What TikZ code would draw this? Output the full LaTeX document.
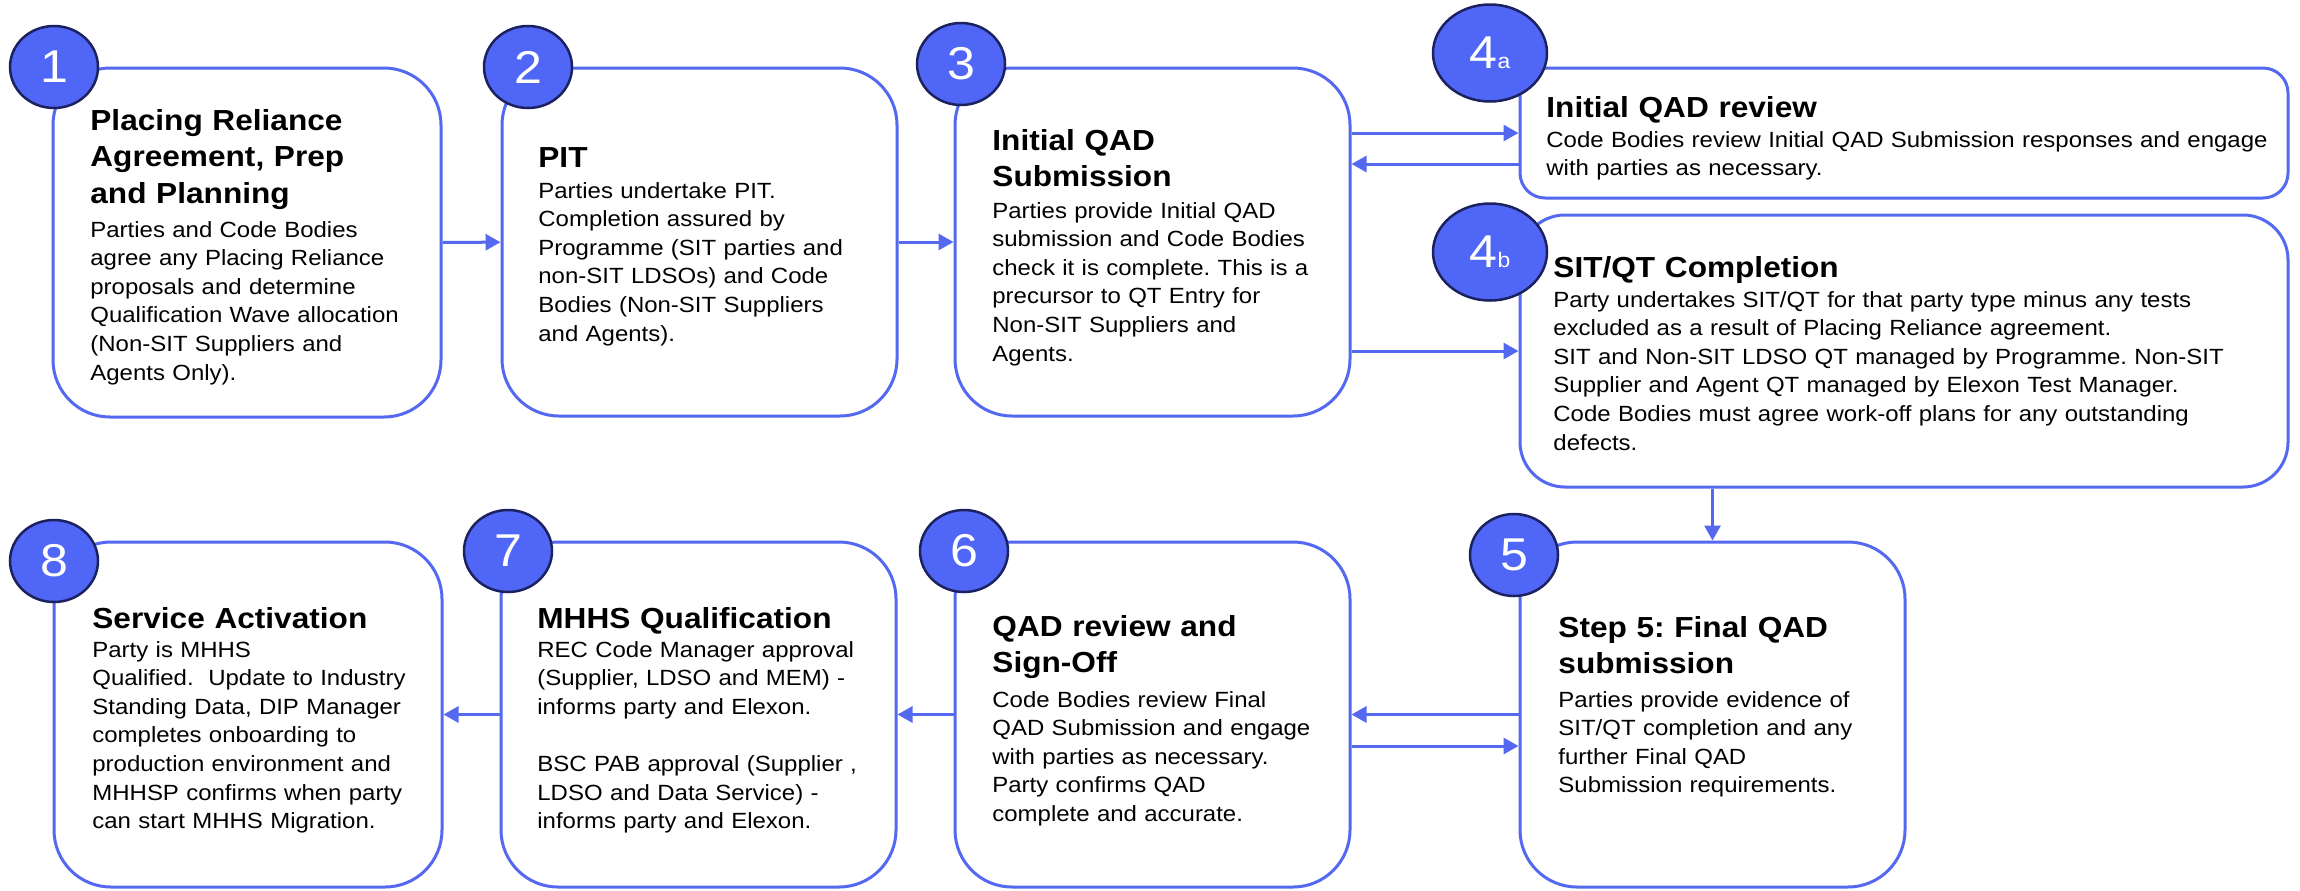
\documentclass[tikz,border=0pt]{standalone}
\usepackage{fontspec}
\setmainfont[FakeStretch=1.09]{Liberation Sans}
\usetikzlibrary{arrows.meta,shapes.geometric}

\definecolor{stepblue}{RGB}{80,102,246}
\definecolor{stepnavy}{RGB}{28,34,96}
\definecolor{linkblue}{RGB}{84,104,240}

\newcommand\titlefont{\fontsize{14.5}{18.4}\selectfont\bfseries}
\newcommand\bodyfont{\fontsize{11}{14.3}\selectfont}
\newcommand\subfont{\fontsize{10.5}{12}\selectfont}
\frenchspacing

\begin{document}
\begin{tikzpicture}[x=0.5pt,y=-0.5pt,
  stepbox/.style={draw=linkblue,line width=1.5pt,rounded corners=28.5pt,fill=white,inner sep=0pt},
  badge/.style={ellipse,draw=stepnavy,line width=1.25pt,fill=stepblue,text=white,inner sep=0pt,
    minimum width=44pt,minimum height=41pt,font=\fontsize{23}{26}\selectfont},
  bigbadge/.style={badge,minimum width=57pt,minimum height=48.5pt},
  steptitle/.style={anchor=base west,inner sep=0pt,align=left,text width=380pt,font=\titlefont},
  stepbody/.style={anchor=base west,inner sep=0pt,align=left,text width=380pt,font=\bodyfont},
  steparrow/.style={draw=linkblue,line width=1.5pt,-{Triangle[length=7.5pt,width=8pt]}}]

\useasboundingbox[fill=white] (0,0) rectangle (2300,890);

% step boxes
\node[stepbox,minimum width=194pt,minimum height=174.5pt] (b1) at (247,242.5) {};
\node[stepbox,minimum width=197.5pt,minimum height=174pt] (b2) at (699.5,242) {};
\node[stepbox,minimum width=197.5pt,minimum height=174pt] (b3) at (1152.5,242) {};
\node[stepbox,minimum width=384pt,minimum height=65pt,rounded corners=12.5pt] (b4a) at (1904,133) {};
\node[stepbox,minimum width=384pt,minimum height=136pt,rounded corners=22.5pt] (b4b) at (1904,351) {};
\node[stepbox,minimum width=192.5pt,minimum height=172.5pt] (b5) at (1712.5,714.5) {};
\node[stepbox,minimum width=197.5pt,minimum height=172.5pt] (b6) at (1152.5,714.5) {};
\node[stepbox,minimum width=197.5pt,minimum height=172.5pt] (b7) at (698.5,714.5) {};
\node[stepbox,minimum width=194pt,minimum height=172.5pt] (b8) at (248,714.5) {};

% connectors
\draw[steparrow] (b1) -- (b2);
\draw[steparrow] (b2) -- (b3);
\draw[steparrow] (b4a.west -| b3.east) -- (b4a.west);
\coordinate (r4a) at ([yshift=-15.5pt]b4a.west);
\draw[steparrow] (r4a) -- (r4a -| b3.east);
\draw[steparrow] (b4b.west -| b3.east) -- (b4b.west);
\draw[steparrow] (b4b.south -| b5.north) -- (b5.north);
\draw[steparrow] (b5.west) -- (b5.west -| b6.east);
\coordinate (r6) at ([yshift=-15.75pt]b6.east);
\draw[steparrow] (r6) -- (r6 -| b5.west);
\draw[steparrow] (b6) -- (b7);
\draw[steparrow] (b7) -- (b8);

% numbered badges
\node[badge] (n1) at (54,67) {1};
\node[badge] (n2) at (528,67) {2};
\node[badge] (n3) at (961,64) {3};
\node[bigbadge] (n4a) at (1490,53) {4{\subfont a}};
\node[bigbadge] (n4b) at (1490,252) {4{\subfont b}};
\node[badge] (n5) at (1514,555) {5};
\node[badge] (n6) at (964,551) {6};
\node[badge] (n7) at (508,551) {7};
\node[badge] (n8) at (54,561) {8};

% step texts
\node[steptitle] (t1) at (90,130) {Placing Reliance\\Agreement, Prep\\and Planning};
\node[stepbody] (d1) at (90,237) {Parties and Code Bodies\\agree any Placing Reliance\\proposals and determine\\Qualification Wave allocation\\(Non-SIT Suppliers and\\Agents Only).};

\node[steptitle] (t2) at (538,167) {PIT};
\node[stepbody] (d2) at (538,198) {Parties undertake PIT.\\Completion assured by\\Programme (SIT parties and\\non-SIT LDSOs) and Code\\Bodies (Non-SIT Suppliers\\and Agents).};

\node[steptitle] (t3) at (992,150) {Initial QAD\\Submission};
\node[stepbody] (d3) at (992,218) {Parties provide Initial QAD\\submission and Code Bodies\\check it is complete. This is a\\precursor to QT Entry for\\Non-SIT Suppliers and\\Agents.};

\node[steptitle] (t4a) at (1546,117) {Initial QAD review};
\node[stepbody] (d4a) at (1546,147) {Code Bodies review Initial QAD Submission responses and engage\\with parties as necessary.};

\node[steptitle] (t4b) at (1553,277) {SIT/QT Completion};
\node[stepbody] (d4b) at (1553,307) {Party undertakes SIT/QT for that party type minus any tests\\excluded as a result of Placing Reliance agreement.\\SIT and Non-SIT LDSO QT managed by Programme. Non-SIT\\Supplier and Agent QT managed by Elexon Test Manager.\\Code Bodies must agree work-off plans for any outstanding\\defects.};

\node[steptitle] (t5) at (1558,637) {Step 5: Final QAD\\submission};
\node[stepbody] (d5) at (1558,707) {Parties provide evidence of\\SIT/QT completion and any\\further Final QAD\\Submission requirements.};

\node[steptitle] (t6) at (992,636) {QAD review and\\Sign-Off};
\node[stepbody] (d6) at (992,707) {Code Bodies review Final\\QAD Submission and engage\\with parties as necessary.\\Party confirms QAD\\complete and accurate.};

\node[steptitle] (t7) at (537,628) {MHHS Qualification};
\node[stepbody] (d7) at (537,657) {REC Code Manager approval\\(Supplier, LDSO and MEM) -\\informs party and Elexon.\\[14.3pt]BSC PAB approval (Supplier ,\\LDSO and Data Service) -\\informs party and Elexon.};

\node[steptitle] (t8) at (92,628) {Service Activation};
\node[stepbody] (d8) at (92,657) {Party is MHHS\\Qualified.\ \ Update to Industry\\Standing Data, DIP Manager\\completes onboarding to\\production environment and\\MHHSP confirms when party\\can start MHHS Migration.};
\end{tikzpicture}
\end{document}
